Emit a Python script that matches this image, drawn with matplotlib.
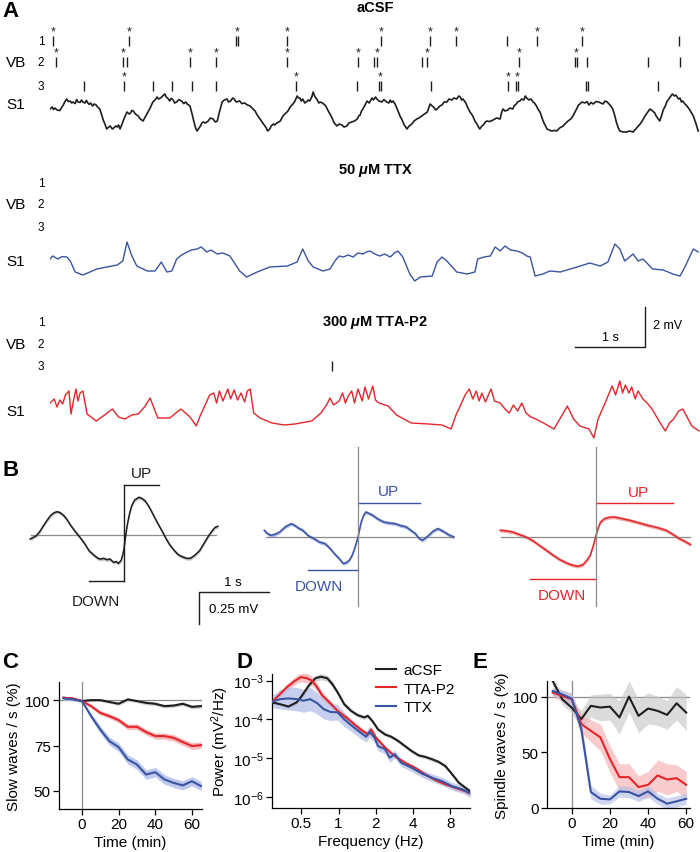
import matplotlib
matplotlib.use("Agg")
import matplotlib.pyplot as plt
import numpy as np

plt.rcParams['font.family'] = ['Liberation Sans', 'DejaVu Sans']
plt.rcParams['mathtext.fontset'] = 'custom'
plt.rcParams['mathtext.rm'] = 'Liberation Sans'
plt.rcParams['mathtext.it'] = 'Liberation Sans:italic:bold'
plt.rcParams['mathtext.bf'] = 'Liberation Sans:bold'

# ======================= DATA =======================
# Panel A: S1 field potentials, (time s, mV relative to trace baseline)
acsf_trace = [
    (0.00,-0.25),(0.03,-0.15),(0.05,-0.28),(0.07,-0.20),(0.10,-0.30),(0.14,-0.33),(0.17,-0.15),(0.19,-0.05),
    (0.21,0.10),(0.24,0.25),(0.26,0.12),(0.29,0.15),(0.31,0.05),(0.33,0.10),(0.36,0.02),(0.38,0.22),
    (0.40,0.10),(0.43,0.08),(0.45,0.20),(0.47,0.10),(0.50,0.05),(0.52,0.18),(0.54,0.05),(0.56,-0.02),
    (0.58,0.05),(0.61,-0.10),(0.63,0.00),(0.66,-0.05),(0.68,-0.15),(0.71,-0.25),(0.74,-0.55),(0.76,-0.80),
    (0.79,-1.05),(0.81,-1.25),(0.84,-1.15),(0.86,-1.10),(0.89,-1.25),(0.91,-1.20),(0.94,-1.10),(0.96,-1.15),
    (0.98,-1.05),(1.00,-1.25),(1.03,-1.00),(1.05,-0.80),(1.08,-0.55),(1.10,-0.40),(1.13,-0.50),(1.15,-0.45),
    (1.17,-0.32),(1.19,-0.35),(1.22,-0.50),(1.26,-0.60),(1.29,-0.75),(1.33,-0.85),(1.36,-0.65),(1.40,-0.40),
    (1.43,-0.20),(1.47,0.10),(1.50,0.20),(1.53,0.35),(1.55,0.25),(1.58,0.30),(1.61,0.40),(1.64,0.50),
    (1.66,0.35),(1.68,0.30),(1.71,0.15),(1.73,0.28),(1.76,0.20),(1.78,0.05),(1.81,0.10),(1.84,0.22),
    (1.88,0.15),(1.91,0.02),(1.94,0.10),(1.96,0.00),(2.00,-0.10),(2.03,-0.50),(2.05,-0.80),(2.08,-1.20),
    (2.10,-1.35),(2.13,-1.20),(2.15,-1.10),(2.17,-0.95),(2.19,-0.90),(2.22,-0.95),(2.26,-0.85),(2.29,-0.70),
    (2.33,-0.75),(2.36,-0.90),(2.39,-0.85),(2.42,-0.40),(2.46,0.10),(2.49,0.20),(2.53,0.25),(2.55,0.10),
    (2.58,0.15),(2.61,0.30),(2.63,0.25),(2.66,0.10),(2.71,0.15),(2.74,0.02),(2.78,0.05),(2.82,-0.05),
    (2.86,-0.10),(2.90,-0.25),(2.93,-0.35),(2.96,-0.55),(3.00,-0.75),(3.03,-0.90),(3.06,-1.05),(3.09,-1.20),
    (3.11,-1.35),(3.14,-1.25),(3.16,-1.10),(3.19,-1.00),(3.21,-1.05),(3.24,-0.95),(3.27,-0.90),(3.29,-0.85),
    (3.32,-0.65),(3.34,-0.55),(3.37,-0.45),(3.40,-0.35),(3.43,-0.15),(3.47,0.00),(3.50,0.15),(3.53,0.40),
    (3.55,0.30),(3.57,0.30),(3.59,0.15),(3.61,0.25),(3.64,0.05),(3.66,0.10),(3.69,0.20),(3.71,0.15),
    (3.74,0.35),(3.76,0.60),(3.78,0.40),(3.81,0.25),(3.84,0.05),(3.86,0.10),(3.89,0.05),(3.91,0.00),
    (3.94,-0.10),(3.96,-0.25),(4.00,-0.50),(4.03,-0.70),(4.06,-0.95),(4.10,-1.10),(4.13,-1.00),(4.17,-1.05),
    (4.20,-1.15),(4.24,-1.10),(4.27,-0.95),(4.31,-0.90),(4.35,-0.85),(4.39,-0.75),(4.41,-0.60),(4.43,-0.55),
    (4.45,-0.35),(4.47,-0.25),(4.50,-0.05),(4.53,0.15),(4.56,0.05),(4.60,0.30),(4.62,0.20),(4.65,0.35),
    (4.67,0.25),(4.70,0.15),(4.74,0.10),(4.77,0.22),(4.81,0.10),(4.84,0.05),(4.86,0.20),(4.88,0.08),
    (4.90,0.15),(4.93,0.00),(4.96,-0.25),(5.00,-0.60),(5.03,-0.80),(5.06,-1.05),(5.10,-1.25),(5.13,-1.10),
    (5.17,-1.00),(5.20,-0.85),(5.24,-0.75),(5.27,-0.70),(5.31,-0.60),(5.35,-0.50),(5.39,-0.40),(5.41,-0.20),
    (5.43,0.00),(5.46,-0.10),(5.48,-0.15),(5.51,-0.30),(5.53,-0.25),(5.57,-0.10),(5.60,-0.05),(5.63,0.10),
    (5.67,0.10),(5.70,0.25),(5.74,0.20),(5.77,0.30),(5.81,0.25),(5.84,0.40),(5.86,0.35),(5.88,0.20),
    (5.90,0.25),(5.94,0.05),(5.97,-0.20),(6.00,-0.40),(6.04,-0.60),(6.07,-0.85),(6.10,-1.00),(6.12,-1.15),
    (6.14,-1.25),(6.17,-1.10),(6.19,-1.05),(6.22,-0.90),(6.24,-0.85),(6.28,-0.88),(6.33,-0.80),(6.38,-0.70),
    (6.43,-0.75),(6.45,-0.45),(6.47,-0.25),(6.50,-0.35),(6.54,-0.30),(6.57,-0.20),(6.61,-0.25),(6.63,-0.10),
    (6.66,0.00),(6.68,0.10),(6.71,0.15),(6.74,0.25),(6.77,0.20),(6.79,0.40),(6.81,0.30),(6.84,0.20),
    (6.87,0.25),(6.90,0.10),(6.92,0.05),(6.95,-0.10),(6.97,-0.25),(7.00,-0.40),(7.03,-0.70),(7.05,-0.90),
    (7.08,-1.10),(7.10,-1.25),(7.13,-1.30),(7.17,-1.35),(7.21,-1.32),(7.24,-1.35),(7.28,-1.20),(7.33,-1.10),
    (7.37,-0.95),(7.40,-0.85),(7.44,-0.75),(7.47,-0.60),(7.50,-0.40),(7.53,-0.20),(7.55,-0.05),(7.57,0.00),
    (7.60,0.10),(7.64,0.05),(7.67,0.12),(7.70,-0.05),(7.73,0.08),(7.76,0.00),(7.80,0.12),(7.84,0.10),
    (7.87,0.05),(7.90,0.00),(7.93,0.15),(7.96,0.10),(8.00,-0.05),(8.04,-0.25),(8.07,-0.60),(8.09,-0.90),
    (8.12,-1.20),(8.14,-1.35),(8.19,-1.40),(8.24,-1.40),(8.28,-1.35),(8.33,-1.40),(8.38,-1.20),(8.43,-1.00),
    (8.46,-0.85),(8.50,-0.60),(8.53,-0.45),(8.57,-0.25),(8.59,-0.30),(8.61,-0.35),(8.64,-0.45),(8.66,-0.60),
    (8.69,-0.75),(8.71,-0.85),(8.74,-0.55),(8.76,-0.30),(8.79,-0.10),(8.81,0.10),(8.83,0.20),(8.85,0.30),
    (8.87,0.40),(8.89,0.50),(8.92,0.40),(8.94,0.45),(8.96,0.35),(8.98,0.25),(9.00,0.30),(9.02,0.10),
    (9.04,0.15),(9.07,0.00),(9.10,-0.10),(9.14,-0.30),(9.19,-0.60),(9.23,-1.00),(9.26,-1.35)]

ttx_t = [0.00,0.04,0.11,0.17,0.24,0.29,0.36,0.47,0.57,0.67,0.81,0.96,1.04,1.10,1.17,1.24,1.39,1.50,1.59,1.67,
         1.74,1.81,1.88,1.96,2.02,2.10,2.16,2.24,2.30,2.39,2.47,2.57,2.71,2.81,2.96,3.14,3.39,3.53,3.61,3.69,
         3.76,3.90,4.00,4.07,4.13,4.19,4.26,4.33,4.40,4.47,4.52,4.57,4.64,4.71,4.78,4.86,4.92,4.97,5.04,5.14,
         5.21,5.29,5.46,5.53,5.60,5.67,5.81,5.96,6.07,6.11,6.20,6.29,6.36,6.43,6.50,6.58,6.67,6.75,6.81,6.86,
         6.93,7.04,7.14,7.29,7.53,7.71,7.86,7.97,8.07,8.14,8.21,8.33,8.40,8.47,8.61,8.76,8.90,9.00,9.07,9.19,9.26]
ttx_v = [0.10,0.25,0.10,0.22,0.20,0.00,-0.55,-0.70,-0.55,-0.40,-0.30,-0.20,0.00,0.95,0.25,-0.25,-0.50,-0.50,-0.05,-0.55,
         -0.50,0.10,0.30,0.45,0.55,0.60,0.70,0.45,0.55,0.35,0.40,0.25,-0.50,-0.80,-0.55,-0.30,-0.25,-0.05,0.60,0.00,
         -0.30,-0.50,-0.40,0.00,0.25,0.20,0.30,0.20,0.40,0.35,0.45,0.50,0.35,0.25,0.35,0.20,0.40,0.50,0.20,-0.65,
         -1.00,-0.80,-0.75,-0.05,0.20,0.00,-0.55,-0.65,-0.55,0.10,0.20,0.25,0.70,0.50,0.75,0.55,0.50,0.40,0.25,0.20,
         -0.75,-0.65,-0.50,-0.55,-0.30,-0.10,-0.25,-0.05,0.85,0.60,0.00,0.35,0.00,0.10,-0.40,-0.45,-0.65,-0.75,-0.30,0.60,0.45]

tta_t = [0.00,0.06,0.10,0.14,0.18,0.22,0.27,0.30,0.34,0.37,0.40,0.43,0.47,0.53,0.66,0.78,0.89,0.98,1.07,1.17,
         1.26,1.35,1.43,1.54,1.71,1.87,2.00,2.09,2.15,2.21,2.28,2.34,2.38,2.42,2.47,2.54,2.58,2.63,2.68,2.73,
         2.78,2.82,2.86,2.91,3.00,3.17,3.35,3.50,3.74,3.87,3.95,4.00,4.05,4.13,4.18,4.22,4.26,4.31,4.35,4.40,
         4.46,4.50,4.55,4.61,4.65,4.70,4.83,4.95,5.16,5.41,5.60,5.73,5.80,5.86,5.93,5.99,6.04,6.09,6.13,6.17,
         6.22,6.30,6.35,6.43,6.50,6.56,6.62,6.68,6.74,6.80,6.87,6.94,7.05,7.20,7.30,7.39,7.48,7.57,7.70,7.77,
         7.83,7.93,8.03,8.08,8.14,8.18,8.22,8.27,8.31,8.36,8.40,8.47,8.53,8.60,8.70,8.79,8.85,8.91,8.98,9.04,
         9.10,9.17,9.27]
tta_v = [0.40,0.60,0.20,0.55,0.35,0.80,1.00,-0.15,0.60,1.10,0.50,0.90,1.00,-0.15,-0.50,-0.20,0.10,-0.30,-0.40,-0.20,
         -0.15,0.20,0.65,-0.35,-0.35,0.10,-0.30,-0.75,-0.20,0.25,0.80,0.90,0.40,1.00,0.50,1.10,0.60,1.05,0.55,0.90,
         0.45,1.00,1.10,-0.10,-0.35,-0.60,-0.70,-0.65,-0.50,-0.10,0.30,0.65,0.30,0.50,0.90,0.40,0.75,1.00,0.40,1.10,
         0.50,1.20,0.60,1.25,0.55,0.40,0.25,-0.20,-0.60,-0.65,-0.70,-0.90,-0.20,0.25,0.80,1.10,0.60,1.00,0.50,0.90,
         0.45,1.10,0.50,0.40,0.10,-0.10,0.30,0.00,0.40,-0.10,-0.30,-0.40,-0.60,-0.90,-0.30,0.25,-0.40,-0.75,-0.90,-1.35,
         -0.40,0.40,1.25,0.80,1.50,0.90,1.30,0.90,1.20,0.60,1.00,0.60,0.40,0.10,-0.50,-1.00,-0.60,-0.40,0.00,0.10,
         -0.30,-0.75,-1.00]

# VB unit spike times (s), rows 1..3, and the subset marked with *
acsf_spikes = [
    [0.043,1.129,2.657,2.686,3.386,4.729,5.429,5.800,6.529,6.957,7.600,8.986],
    [0.086,1.043,1.100,2.000,2.371,3.386,4.400,4.629,4.671,5.314,5.386,6.700,7.500,7.529,7.671,8.543,9.000],
    [0.486,1.057,1.471,1.743,2.029,2.371,3.514,4.386,4.700,4.729,5.443,6.543,6.657,6.686,7.657,7.686,8.686],
]
acsf_stars = [
    [0.043,1.129,2.671,3.386,4.729,5.429,5.800,6.957,7.600],
    [0.086,1.043,2.000,2.371,3.386,4.400,4.671,5.386,6.700,7.514],
    [1.057,3.514,4.714,6.543,6.671],
]
ttx_spikes = [[], [], []]
tta_spikes = [[], [], [4.03]]

# Panel B: average UP/DOWN transitions (time s rel. to transition, mV)
wave_acsf_t = [-1.34,-1.30,-1.25,-1.20,-1.15,-1.10,-1.05,-1.00,-0.955,-0.91,-0.86,-0.81,-0.76,-0.70,-0.63,-0.56,-0.50,-0.45,-0.41,-0.37,
               -0.34,-0.29,-0.245,-0.20,-0.15,-0.11,-0.08,-0.04,-0.02,0.0,0.02,0.045,0.08,0.11,0.15,0.21,0.25,0.30,0.35,0.40,
               0.45,0.50,0.55,0.59,0.65,0.72,0.78,0.85,0.90,0.95,1.01,1.08,1.15,1.21,1.27,1.30,1.34]
wave_acsf_v = [-0.032,-0.02,-0.005,0.03,0.074,0.115,0.153,0.175,0.184,0.175,0.153,0.118,0.074,0.03,-0.018,-0.07,-0.124,-0.15,-0.168,-0.185,
               -0.19,-0.185,-0.195,-0.19,-0.216,-0.21,-0.224,-0.20,-0.16,-0.11,-0.02,0.074,0.17,0.23,0.275,0.297,0.29,0.27,0.23,0.179,
               0.125,0.074,0.025,-0.018,-0.075,-0.124,-0.158,-0.176,-0.185,-0.184,-0.16,-0.124,-0.06,-0.005,0.04,0.06,0.068]
wave_ttx_t = [-1.34,-1.30,-1.25,-1.19,-1.12,-1.04,-0.955,-0.90,-0.85,-0.79,-0.71,-0.63,-0.55,-0.47,-0.40,-0.34,-0.27,-0.21,-0.16,-0.12,
              -0.08,-0.05,-0.02,0.0,0.045,0.08,0.11,0.16,0.21,0.29,0.37,0.45,0.53,0.61,0.69,0.76,0.82,0.87,0.92,0.97,
              1.01,1.07,1.14,1.20,1.27,1.32,1.37]
wave_ttx_v = [0.053,0.03,0.013,0.02,0.039,0.08,0.105,0.09,0.07,0.053,0.01,-0.013,-0.04,-0.053,-0.09,-0.13,-0.17,-0.21,-0.20,-0.18,
              -0.14,-0.092,-0.04,0.0,0.118,0.17,0.197,0.185,0.171,0.14,0.118,0.11,0.105,0.09,0.079,0.05,0.026,-0.01,-0.026,-0.005,
              0.013,0.045,0.066,0.05,0.026,0.01,0.0]
wave_tta_t = [-1.37,-1.28,-1.19,-1.10,-1.0,-0.90,-0.81,-0.71,-0.61,-0.52,-0.42,-0.34,-0.26,-0.19,-0.13,-0.08,-0.045,-0.02,0.0,0.03,
              0.065,0.12,0.19,0.26,0.37,0.48,0.61,0.74,0.87,1.0,1.10,1.19,1.27,1.35]
wave_tta_v = [0.053,0.048,0.039,0.02,0.0,-0.03,-0.066,-0.105,-0.145,-0.178,-0.205,-0.222,-0.231,-0.22,-0.184,-0.14,-0.079,-0.03,0.013,0.07,
              0.118,0.145,0.155,0.158,0.145,0.132,0.112,0.092,0.075,0.053,0.02,-0.013,-0.035,-0.06]
# UP / DOWN windows (s) and bar levels (mV)
updown_acsf = dict(down=(-0.5, 0.0, -0.36), up=(0.0, 0.5, 0.395))
updown_ttx = dict(down=(-0.71, 0.0, -0.258), up=(0.0, 0.88, 0.27))
updown_tta = dict(down=(-0.94, 0.0, -0.33), up=(0.0, 1.10, 0.27))

# Panel C: slow waves / s (%)
c_time = [-10, -5, 0, 5, 10, 15, 20, 25, 30, 35, 40, 45, 50, 55, 60, 65]
c_acsf = [101.3,100.7,99.5,100,100,99,98,100.4,99.5,98.5,98,96.7,97,98,96.3,96.7]
c_tta = [101.3,101,99.5,96.7,93,91.2,89,85.3,85.3,82.4,80.2,80.2,79.2,76.9,74.7,75.2]
c_ttx = [101,100.5,99.5,91.2,83.8,77.4,74.1,67.3,64.5,59,60.3,56.3,54.4,53,55.3,52.6]
c_acsf_sem = [0.8,0.8,0.6,0.8,0.8,0.8,0.9,0.9,0.9,1.0,1.0,1.0,1.0,1.0,1.1,1.1]
c_tta_sem = [0.8,0.8,0.6,1.0,1.2,1.3,1.4,1.5,1.6,1.6,1.7,1.7,1.8,1.8,1.8,1.8]
c_ttx_sem = [1.0,1.0,0.6,1.5,2.0,2.2,2.4,2.5,2.6,2.6,2.6,2.6,2.5,2.5,2.5,2.5]

# Panel D: power spectra (Hz, log10 mV^2/Hz)
d_acsf_f = [0.288,0.337,0.394,0.46,0.506,0.574,0.65,0.72,0.81,0.89,0.98,1.11,1.26,1.42,1.61,1.72,1.89,2.08,2.37,2.66,
            3.03,3.43,3.89,4.42,5.0,5.67,6.43,7.28,8.26,9.36,10.6,12.0]
d_acsf_p = [-3.56,-3.61,-3.67,-3.56,-3.39,-3.13,-2.94,-2.90,-2.94,-3.09,-3.30,-3.61,-3.78,-3.89,-3.95,-3.91,-4.06,-4.26,-4.39,-4.45,
            -4.56,-4.69,-4.82,-4.93,-4.97,-5.03,-5.10,-5.21,-5.42,-5.64,-5.77,-5.90]
d_acsf_sem = [0.04,0.04,0.05,0.06,0.07,0.08,0.08,0.08,0.08,0.08,0.07,0.06,0.05,0.05,0.05,0.05,0.05,0.05,0.05,0.05,
              0.05,0.05,0.05,0.05,0.05,0.05,0.05,0.05,0.05,0.05,0.05,0.05]
d_tta_f = [0.288,0.327,0.383,0.447,0.497,0.556,0.61,0.67,0.74,0.84,0.98,1.15,1.34,1.56,1.74,1.83,2.0,2.37,2.84,3.43,
           4.12,5.0,6.04,7.28,8.8,10.6,12.0]
d_tta_p = [-3.56,-3.39,-3.17,-3.0,-2.91,-2.94,-3.0,-3.17,-3.39,-3.56,-3.78,-3.95,-4.13,-4.30,-4.39,-4.26,-4.47,-4.73,-4.95,-5.12,
           -5.25,-5.42,-5.57,-5.68,-5.77,-5.86,-5.94]
d_tta_sem = [0.05,0.07,0.09,0.10,0.12,0.12,0.12,0.10,0.09,0.08,0.07,0.06,0.06,0.06,0.06,0.06,0.06,0.05,0.05,0.05,
             0.05,0.05,0.05,0.05,0.05,0.05,0.05]
d_ttx_f = [0.288,0.337,0.394,0.46,0.52,0.59,0.67,0.76,0.86,0.98,1.11,1.26,1.47,1.67,1.77,1.95,2.08,2.37,2.59,2.84,
           3.2,3.89,4.7,5.67,6.85,8.26,10.0,12.0]
d_ttx_p = [-3.55,-3.48,-3.46,-3.48,-3.52,-3.48,-3.58,-3.74,-3.81,-3.82,-4.0,-4.15,-4.32,-4.45,-4.32,-4.47,-4.69,-4.77,-4.99,-4.90,
           -5.12,-5.25,-5.40,-5.51,-5.60,-5.73,-5.81,-5.94]
d_ttx_sem = [0.15,0.25,0.30,0.30,0.30,0.30,0.28,0.25,0.22,0.20,0.18,0.16,0.15,0.14,0.14,0.13,0.12,0.12,0.12,0.10,
             0.10,0.10,0.10,0.10,0.10,0.10,0.10,0.10]
d_xticks = [0.5, 1, 2, 4, 8]
d_xticklabels = ['0.5', '1', '2', '4', '8']

# Panel E: spindle waves / s (%)
e_time = [-10, -5, 0, 5, 10, 15, 20, 25, 30, 35, 40, 45, 50, 55, 60]
e_acsf = [114,97.6,90,79.8,91.7,90.2,91,81.3,100,82.7,89.3,87.2,83.6,94,85.7]
e_tta = [103.6,100.6,97.6,75.3,69.3,63.4,44,27.7,27.7,18.8,20.8,29.2,25.6,26.8,20.8]
e_ttx = [105,102,98.2,70.8,14.3,8.3,7.7,14.9,14.3,10.7,14.9,8.3,3.9,6,8.3]
e_acsf_sem = [4,5,5,8,10,12,12,15,14,15,14,13,13,15,16]
e_tta_sem = [4,5,5,8,10,12,12,12,12,10,12,14,14,12,12]
e_ttx_sem = [4,4,5,8,6,5,4,5,5,5,5,5,5,5,5]

legend_labels = ['aCSF', 'TTA-P2', 'TTX']

# ======================= STYLE =======================
BLACK = '#1e1e1e'
BLUE = '#3a54a4'
RED = '#e4262b'
BAND_K = '#c4c4c4'
BAND_B = '#aebbe6'
BAND_R = '#f4a9aa'
GREY = '#8a8a8a'

W, H = 700, 853
fig = plt.figure(figsize=(W / 100, H / 100), dpi=100)


def px_axes(x0, y0, x1, y1, z=1):
    return fig.add_axes([x0 / W, 1 - y1 / H, (x1 - x0) / W, (y1 - y0) / H], zorder=z)


# overlay axes in pixel coords for labels
ax_t = px_axes(0, 0, W, H, z=5)
ax_t.set_xlim(0, W)
ax_t.set_ylim(H, 0)
ax_t.axis('off')
ax_t.patch.set_alpha(0)

# ----------------------- Panel A -----------------------
PXS = 70.0   # px per second
PXMV = 20.0  # px per mV
A_X0 = 50
axA = px_axes(A_X0, 0, W, 470)
axA.set_xlim(0, (W - A_X0) / PXS)
axA.set_ylim(-470 / PXMV, 0)
axA.axis('off')


def yA(px):
    return -px / PXMV


acsf_t = [p[0] for p in acsf_trace]
acsf_v = [p[1] for p in acsf_trace]

conds = [
    dict(title='aCSF', ty=8, rows=[42, 63, 87], s1=105, t=acsf_t, v=acsf_v, col=BLACK, lw=1.2,
         spikes=acsf_spikes, stars=acsf_stars),
    dict(title=r'50 $\mu$M TTX', ty=170, rows=[184, 205, 228], s1=262, t=ttx_t, v=ttx_v, col=BLUE, lw=1.0,
         spikes=ttx_spikes, stars=[[], [], []]),
    dict(title=r'300 $\mu$M TTA-P2', ty=322, rows=[323, 345, 367], s1=412, t=tta_t, v=tta_v, col=RED, lw=1.0,
         spikes=tta_spikes, stars=[[], [], []]),
]

for c in conds:
    base = yA(c['s1'])
    axA.plot(c['t'], np.asarray(c['v']) + base, color=c['col'], lw=c['lw'])
    for r, rowpx in enumerate(c['rows']):
        if c['spikes'][r]:
            axA.vlines(c['spikes'][r], yA(rowpx + 5), yA(rowpx - 5), color=BLACK, lw=1.0)
        for st in c['stars'][r]:
            axA.text(st, yA(rowpx - 10), '*', ha='center', va='center', fontsize=9, color=BLACK)
    ax_t.text(375, c['ty'], c['title'], ha='center', va='center', fontsize=10.5, fontweight='bold')
    for lab, rowpx in zip(['1', '2', '3'], c['rows']):
        ax_t.text(41, rowpx, lab, ha='center', va='center', fontsize=8.5)
    ax_t.text(6, c['rows'][1], 'VB', ha='left', va='center', fontsize=11)
    ax_t.text(6, c['s1'], 'S1', ha='left', va='center', fontsize=11)

# scale bar A: 1 s, 2 mV
sb_t0 = (575 - A_X0) / PXS
axA.plot([sb_t0, sb_t0 + 1, sb_t0 + 1], [yA(348), yA(348), yA(348) + 2], color=BLACK, lw=1.0)
ax_t.text(610, 338, '1 s', ha='center', va='center', fontsize=9)
ax_t.text(653, 326, '2 mV', ha='left', va='center', fontsize=9)
ax_t.text(2, 11, 'A', ha='left', va='center', fontsize=16, fontweight='bold')

# ----------------------- Panel B -----------------------
PXMV_B = 126.7
axB = px_axes(0, 440, W, 640)
axB.set_xlim(0, W / PXS)
axB.set_ylim(-200 / PXMV_B, 0)
axB.axis('off')


def yB(px):
    return -(px - 440) / PXMV_B


waves = [
    dict(t=wave_acsf_t, v=wave_acsf_v, col=BLACK, band=BAND_K, x0=124, y0=536, ud=updown_acsf,
         vtop=None, vbot=None, zl=(-1.33, 1.31), up_txt=(141, 474), dn_txt=(96, 602)),
    dict(t=wave_ttx_t, v=wave_ttx_v, col=BLUE, band=BAND_B, x0=358, y0=538, ud=updown_ttx,
         vtop=448, vbot=607, zl=(-1.31, 1.36), up_txt=(388, 492), dn_txt=(319, 587)),
    dict(t=wave_tta_t, v=wave_tta_v, col=RED, band=BAND_R, x0=596, y0=538, ud=updown_tta,
         vtop=448, vbot=607, zl=(-1.36, 1.34), up_txt=(638, 493), dn_txt=(562, 596)),
]
for w in waves:
    tt = np.asarray(w['t']) + w['x0'] / PXS
    vv = np.asarray(w['v']) + yB(w['y0'])
    z0 = yB(w['y0'])
    axB.plot(np.array(w['zl']) + w['x0'] / PXS, [z0, z0], color=GREY, lw=0.9)
    axB.fill_between(tt, vv - 0.014, vv + 0.014, color=w['band'], lw=0)
    axB.plot(tt, vv, color=w['col'], lw=1.1)
    d0, d1, dv = w['ud']['down']
    u0, u1, uv = w['ud']['up']
    axB.plot(np.array([d0, d1]) + w['x0'] / PXS, [z0 + dv, z0 + dv], color=w['col'], lw=1.0)
    axB.plot(np.array([u0, u1]) + w['x0'] / PXS, [z0 + uv, z0 + uv], color=w['col'], lw=1.0)
    if w['vtop'] is None:
        axB.plot([w['x0'] / PXS] * 2, [z0 + dv, z0 + uv], color=BLACK, lw=1.0)
    else:
        axB.plot([w['x0'] / PXS] * 2, [yB(w['vbot']), yB(w['vtop'])], color=GREY, lw=0.9)
    ax_t.text(w['up_txt'][0], w['up_txt'][1], 'UP', ha='center', va='center', fontsize=11, color=w['col'])
    ax_t.text(w['dn_txt'][0], w['dn_txt'][1], 'DOWN', ha='center', va='center', fontsize=11, color=w['col'])

# scale bar B: 1 s, 0.25 mV
axB.plot([199 / PXS + 1, 199 / PXS, 199 / PXS], [yB(593), yB(593), yB(593) - 0.25], color=BLACK, lw=1.0)
ax_t.text(233, 583, '1 s', ha='center', va='center', fontsize=9.5)
ax_t.text(234, 610, '0.25 mV', ha='center', va='center', fontsize=9.5)
ax_t.text(2, 470, 'B', ha='left', va='center', fontsize=16, fontweight='bold')


# ----------------------- Panels C, D, E -----------------------
def style_ax(ax):
    for s in ['top', 'right']:
        ax.spines[s].set_visible(False)
    for s in ['left', 'bottom']:
        ax.spines[s].set_linewidth(0.9)
    ax.tick_params(direction='out', length=4, width=0.9, labelsize=11, pad=2)


# C
axC = px_axes(59, 683, 202, 810)
style_ax(axC)
axC.set_xlim(-12.5, 65.5)
axC.set_ylim(40, 110)
axC.axhline(100, color=GREY, lw=0.9, zorder=1)
axC.axvline(0, color=GREY, lw=0.9, zorder=1)
for y, s, col, band in [(c_acsf, c_acsf_sem, BLACK, BAND_K), (c_tta, c_tta_sem, RED, BAND_R),
                        (c_ttx, c_ttx_sem, BLUE, BAND_B)]:
    y = np.asarray(y); s = np.asarray(s)
    axC.fill_between(c_time, y - s, y + s, color=band, lw=0, alpha=0.8, zorder=2)
    axC.plot(c_time, y, color=col, lw=1.5, zorder=3)
axC.set_xticks([0, 20, 40, 60])
axC.set_yticks([50, 75, 100])
axC.set_xlabel('Time (min)', fontsize=11, labelpad=3)
axC.set_ylabel('Slow waves / s (%)', fontsize=11, labelpad=3)
ax_t.text(2, 663, 'C', ha='left', va='center', fontsize=16, fontweight='bold')

# D
axD = px_axes(272, 675, 470, 809)
style_ax(axD)
axD.set_xscale('log')
axD.set_yscale('log')
handles = []
for f, p, s, col, band in [(d_acsf_f, d_acsf_p, d_acsf_sem, BLACK, BAND_K),
                           (d_tta_f, d_tta_p, d_tta_sem, RED, BAND_R),
                           (d_ttx_f, d_ttx_p, d_ttx_sem, BLUE, BAND_B)]:
    p = np.asarray(p); s = np.asarray(s)
    axD.fill_between(f, 10 ** (p - s), 10 ** (p + s), color=band, lw=0, alpha=0.7, zorder=2)
    h, = axD.plot(f, 10 ** p, color=col, lw=1.5, zorder=3)
    handles.append(h)
axD.set_xlim(0.29, 11.5)
axD.set_ylim(10 ** -6.29, 10 ** -2.83)
axD.set_xticks(d_xticks)
axD.set_xticklabels(d_xticklabels)
axD.minorticks_off()
axD.set_yticks([1e-6, 1e-5, 1e-4, 1e-3])
axD.set_xlabel('Frequency (Hz)', fontsize=11, labelpad=3)
axD.set_ylabel(r'Power (mV$^2$/Hz)', fontsize=11, labelpad=1)
axD.legend(handles, legend_labels, loc='upper left', bbox_to_anchor=(376 / W, 1 - 664 / H),
           bbox_transform=fig.transFigure, frameon=False, fontsize=11, handlelength=1.3,
           handletextpad=0.5, labelspacing=0.3, borderpad=0, borderaxespad=0)
ax_t.text(236, 663, 'D', ha='left', va='center', fontsize=16, fontweight='bold')

# E
axE = px_axes(547, 682, 690, 809)
style_ax(axE)
axE.set_xlim(-13, 62)
axE.set_ylim(0, 114)
axE.axhline(100, color=GREY, lw=0.9, zorder=1)
axE.axvline(0, color=GREY, lw=0.9, zorder=1)
for y, s, col, band in [(e_acsf, e_acsf_sem, BLACK, BAND_K), (e_tta, e_tta_sem, RED, BAND_R),
                        (e_ttx, e_ttx_sem, BLUE, BAND_B)]:
    y = np.asarray(y); s = np.asarray(s)
    axE.fill_between(e_time, y - s, y + s, color=band, lw=0, alpha=0.6, zorder=2)
    axE.plot(e_time, y, color=col, lw=1.5, zorder=3)
axE.set_xticks([0, 20, 40, 60])
axE.set_yticks([0, 50, 100])
axE.set_xlabel('Time (min)', fontsize=11, labelpad=3)
axE.set_ylabel('Spindle waves / s (%)', fontsize=11, labelpad=3)
ax_t.text(473, 663, 'E', ha='left', va='center', fontsize=16, fontweight='bold')

fig.savefig('out.png', dpi=100)
